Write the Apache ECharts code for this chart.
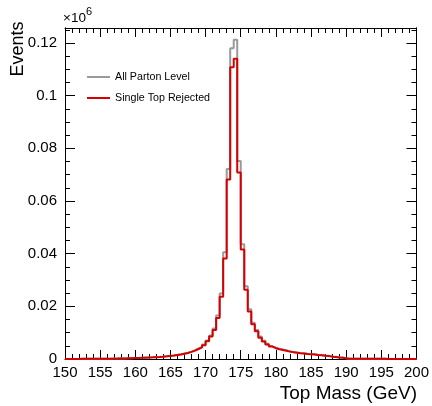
<!DOCTYPE html>
<html>
<head>
<meta charset="utf-8">
<script src="https://cdn.jsdelivr.net/npm/echarts@6/dist/echarts.min.js"></script>
<style>
html,body{margin:0;padding:0;background:#fff;}
#chart{width:432px;height:406px;}
</style>
</head>
<body>
<div id="chart"></div>
<script>
// Histogram binning (Top Mass, GeV)
const binLow = 150;
const binWidth = 0.5;
const nBins = 100;

// Events (x10^6) per 0.5 GeV bin
const allPartonLevel = [
  0.00003,0.00003,0.00004,0.00004,0.00005,0.00005,0.00006,0.00007,0.00008,0.0001,
  0.00011,0.00012,0.00013,0.00015,0.00017,0.0002,0.00023,0.00027,0.00032,0.00037,
  0.00042,0.00047,0.00053,0.00059,0.00065,0.00074,0.00082,0.00093,0.00105,0.0012,
  0.00137,0.00158,0.0018,0.0021,0.0024,0.0028,0.0034,0.004,0.0046,0.0055,
  0.0070,0.0089,0.0116,0.0165,0.0249,0.0405,0.0722,0.1180,0.1212,0.0752,
  0.0436,0.0276,0.0189,0.0138,0.0110,0.0085,0.0069,0.0058,0.0049,0.0043,
  0.0039,0.0036,0.0033,0.0029,0.0027,0.0025,0.0023,0.0022,0.0020,0.0019,
  0.0018,0.0016,0.0015,0.0013,0.0012,0.00095,0.00085,0.00063,0.00053,0.00032,
  0.00013,0.00011,0.0001,0.00009,0.00008,0.00008,0.00007,0.00006,0.00006,0.00005,
  0.00005,0.00005,0.00004,0.00004,0.00004,0.00003,0.00003,0.00003,0.00003,0.00003
];
const singleTopRejected = [
  0.00003,0.00003,0.00004,0.00004,0.00005,0.00005,0.00006,0.00007,0.00008,0.00009,
  0.0001,0.00011,0.00012,0.00014,0.00016,0.00019,0.00022,0.00026,0.0003,0.00035,
  0.0004,0.00045,0.0005,0.00056,0.00062,0.0007,0.00078,0.00088,0.001,0.00115,
  0.0013,0.0015,0.0017,0.002,0.0023,0.0027,0.0032,0.0038,0.0044,0.0052,
  0.0067,0.0085,0.0110,0.0156,0.0236,0.0382,0.0682,0.1108,0.1140,0.0708,
  0.0416,0.0263,0.0180,0.0132,0.0105,0.0081,0.0066,0.0055,0.0047,0.0041,
  0.0037,0.0034,0.0031,0.0028,0.0026,0.0024,0.0022,0.0021,0.0019,0.0018,
  0.0017,0.0015,0.0014,0.0012,0.0011,0.0009,0.0008,0.0006,0.0005,0.0003,
  0.00012,0.0001,0.00009,0.00008,0.00008,0.00007,0.00007,0.00006,0.00005,0.00005,
  0.00005,0.00004,0.00004,0.00004,0.00003,0.00003,0.00003,0.00003,0.00003,0.00003
];

const xTicks = [150,155,160,165,170,175,180,185,190,195,200];
const yMax = 0.1257;

function toSteps(vals){
  const pts = [];
  for (let i = 0; i < nBins; i++) pts.push([binLow + i*binWidth, vals[i]]);
  pts.push([binLow + nBins*binWidth, vals[nBins-1]]);
  return pts;
}

const FONT = "'Liberation Sans', Arial, Helvetica, sans-serif";
const chart = echarts.init(document.getElementById('chart'), null, {renderer:'canvas'});

const baseX = {
  type:'value', min: xTicks[0], max: xTicks[xTicks.length-1], interval: 5,
  splitLine:{show:false},
  axisLine:{show:true, onZero:false, lineStyle:{color:'#000', width:1}},
  axisTick:{show:true, inside:true, length:9, lineStyle:{color:'#000', width:1}},
  minorTick:{show:true, splitNumber:5, length:5, lineStyle:{color:'#000', width:1}},
  minorSplitLine:{show:false}
};
const baseY = {
  type:'value', min:0, max:yMax, interval:0.02,
  splitLine:{show:false},
  axisLine:{show:true, onZero:false, lineStyle:{color:'#000', width:1}},
  axisTick:{show:true, inside:true, length:10, lineStyle:{color:'#000', width:1}},
  axisLabel:{show:false}
};

const option = {
  animation:false,
  backgroundColor:'#fff',
  grid:{left:65, right:15, top:28, bottom:47, containLabel:false},
  xAxis:[
    Object.assign({}, baseX, {position:'bottom',
      axisLabel:{show:true, fontSize:15, color:'#000', fontFamily:FONT, margin:6}}),
    Object.assign({}, baseX, {position:'top', axisLabel:{show:false}})
  ],
  yAxis:[
    Object.assign({}, baseY, {position:'left',
      axisLabel:{show:true, fontSize:15, color:'#000', fontFamily:FONT, margin:8, showMaxLabel:false}}),
    Object.assign({}, baseY, {position:'left', interval:0.005,
      axisTick:{show:true, inside:true, length:5, lineStyle:{color:'#000', width:1}}}),
    Object.assign({}, baseY, {position:'right'}),
    Object.assign({}, baseY, {position:'right', interval:0.005,
      axisTick:{show:true, inside:true, length:5, lineStyle:{color:'#000', width:1}}})
  ],
  legend:{
    orient:'vertical', left:87, top:70, padding:0,
    itemWidth:23, itemHeight:2, itemGap:7,
    icon:'rect',
    textStyle:{fontSize:10.7, color:'#000', fontFamily:FONT, lineHeight:14},
    data:['All Parton Level','Single Top Rejected']
  },
  series:[
    {name:'All Parton Level', type:'line', step:'end', symbol:'none',
     xAxisIndex:0, yAxisIndex:0,
     data: toSteps(allPartonLevel),
     lineStyle:{color:'#9a9a9a', width:2}, itemStyle:{color:'#9a9a9a'}, z:2},
    {name:'Single Top Rejected', type:'line', step:'end', symbol:'none',
     xAxisIndex:0, yAxisIndex:0,
     data: toSteps(singleTopRejected),
     lineStyle:{color:'#d60000', width:2}, itemStyle:{color:'#d60000'}, z:3}
  ],
  graphic:[
    {type:'text', x:63, y:18.5, style:{text:'×10', font:'13.5px '+FONT, fill:'#000', textAlign:'left', textVerticalAlign:'middle'}},
    {type:'text', x:86, y:11.5, style:{text:'6', font:'11px '+FONT, fill:'#000', textAlign:'left', textVerticalAlign:'middle'}},
    {type:'text', x:18, y:49, rotation:Math.PI/2, style:{text:'Events', font:'18px '+FONT, fill:'#000', textAlign:'center', textVerticalAlign:'middle'}},
    {type:'text', x:417, y:394, style:{text:'Top Mass (GeV)', font:'19px '+FONT, fill:'#000', textAlign:'right', textVerticalAlign:'middle'}}
  ]
};
chart.setOption(option);
</script>
</body>
</html>
